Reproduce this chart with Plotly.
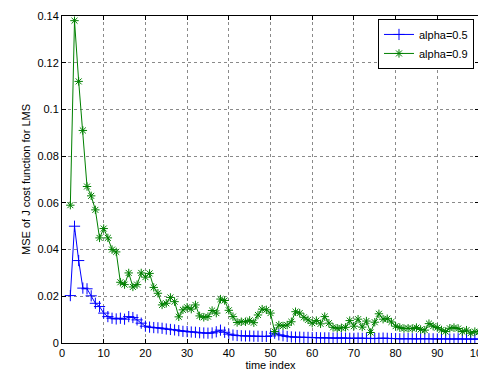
import plotly.graph_objects as go

x_index = list(range(2, 101))

alpha_05 = [
    0.0203, 0.0500, 0.0353, 0.0235, 0.0232, 0.0202, 0.0170, 0.0156, 0.0128, 0.0113,  # 2-11
    0.0106, 0.0103, 0.0106, 0.0102, 0.0113, 0.0109, 0.0099, 0.0085, 0.0072, 0.0068,  # 12-21
    0.0066, 0.0065, 0.0063, 0.0060, 0.0058, 0.0056, 0.0053, 0.0050, 0.0049, 0.0047,  # 22-31
    0.0046, 0.0044, 0.0043, 0.0042, 0.0043, 0.0048, 0.0055, 0.0046, 0.0038, 0.0034,  # 32-41
    0.0032, 0.0031, 0.0030, 0.0030, 0.0029, 0.0029, 0.0028, 0.0028, 0.0030, 0.0042,  # 42-51
    0.0035, 0.0031, 0.0028, 0.0026, 0.0025, 0.0025, 0.0024, 0.0024, 0.0023, 0.0023,  # 52-61
    0.0022, 0.0022, 0.0022, 0.0021, 0.0021, 0.0022, 0.0021, 0.0020, 0.0020, 0.0021,  # 62-71
    0.0020, 0.0020, 0.0019, 0.0019, 0.0020, 0.0021, 0.0020, 0.0019, 0.0019, 0.0018,  # 72-81
    0.0018, 0.0019, 0.0018, 0.0018, 0.0018, 0.0019, 0.0018, 0.0018, 0.0017, 0.0018,  # 82-91
    0.0018, 0.0017, 0.0017, 0.0018, 0.0017, 0.0017, 0.0017, 0.0016, 0.0017,          # 92-100
]

alpha_09 = [
    0.0590, 0.1380, 0.1120, 0.0910, 0.0670, 0.0630, 0.0570, 0.0450, 0.0490, 0.0450,  # 2-11
    0.0400, 0.0390, 0.0260, 0.0250, 0.0300, 0.0240, 0.0250, 0.0300, 0.0282, 0.0298,  # 12-21
    0.0238, 0.0213, 0.0163, 0.0170, 0.0195, 0.0177, 0.0112, 0.0142, 0.0153, 0.0145,  # 22-31
    0.0163, 0.0116, 0.0110, 0.0113, 0.0139, 0.0128, 0.0188, 0.0182, 0.0140, 0.0113,  # 32-41
    0.0088, 0.0091, 0.0091, 0.0097, 0.0087, 0.0120, 0.0145, 0.0142, 0.0128, 0.0049,  # 42-51
    0.0077, 0.0073, 0.0077, 0.0091, 0.0134, 0.0128, 0.0110, 0.0099, 0.0085, 0.0096,  # 52-61
    0.0082, 0.0113, 0.0085, 0.0067, 0.0063, 0.0065, 0.0067, 0.0096, 0.0072, 0.0102,  # 62-71
    0.0068, 0.0094, 0.0045, 0.0089, 0.0125, 0.0102, 0.0104, 0.0090, 0.0072, 0.0066,  # 72-81
    0.0062, 0.0063, 0.0062, 0.0066, 0.0058, 0.0055, 0.0083, 0.0072, 0.0066, 0.0056,  # 82-91
    0.0049, 0.0063, 0.0066, 0.0062, 0.0049, 0.0055, 0.0042, 0.0049, 0.0047,          # 92-100
]

x_ticks = list(range(0, 101, 10))
y_ticks = [0, 0.02, 0.04, 0.06, 0.08, 0.10, 0.12, 0.14]
y_tick_text = ["0", "0.02", "0.04", "0.06", "0.08", "0.1", "0.12", "0.14"]

FONT = "Liberation Sans, Arial, sans-serif"

fig = go.Figure()
fig.add_trace(go.Scatter(
    x=x_index, y=alpha_05, mode="lines+markers", name="alpha=0.5",
    line=dict(color="#0000FF", width=1),
    marker=dict(symbol="cross-thin-open", size=8, color="#0000FF",
                line=dict(color="#0000FF", width=1)),
))
fig.add_trace(go.Scatter(
    x=x_index, y=alpha_09, mode="lines+markers", name="alpha=0.9",
    line=dict(color="#008000", width=1),
    marker=dict(symbol="asterisk-open", size=7, color="#008000",
                line=dict(color="#008000", width=1)),
))

axis_common = dict(
    showline=True, linecolor="black", linewidth=1, mirror="ticks",
    ticks="inside", ticklen=4, tickcolor="black",
    showgrid=True, gridcolor="#8a8a8a", griddash="dot", gridwidth=1,
    zeroline=False, automargin=False,
    tickfont=dict(family=FONT, size=11, color="black"),
)

# page body has an 8px margin, so the figure is sized/offset to compensate
fig.update_layout(
    width=478, height=366,
    margin=dict(l=54, r=7, t=8, b=31),
    paper_bgcolor="white", plot_bgcolor="white",
    font=dict(family=FONT, size=11, color="black"),
    showlegend=True,
    legend=dict(
        x=0.988, y=0.991, xanchor="right", yanchor="top",
        bgcolor="white", bordercolor="black", borderwidth=1,
        font=dict(family=FONT, size=11, color="black"),
        tracegroupgap=0, itemwidth=30,
    ),
)
fig.update_xaxes(
    range=[0, 100], tickvals=x_ticks, ticklabeloverflow="allow",
    title=dict(text="time index", font=dict(family=FONT, size=11), standoff=2),
    **axis_common,
)
fig.update_yaxes(
    range=[0, 0.14], tickvals=y_ticks, ticktext=y_tick_text,
    title=dict(text="MSE of J cost function for LMS", font=dict(family=FONT, size=11), standoff=4),
    **axis_common,
)

fig.write_html("out.html")
